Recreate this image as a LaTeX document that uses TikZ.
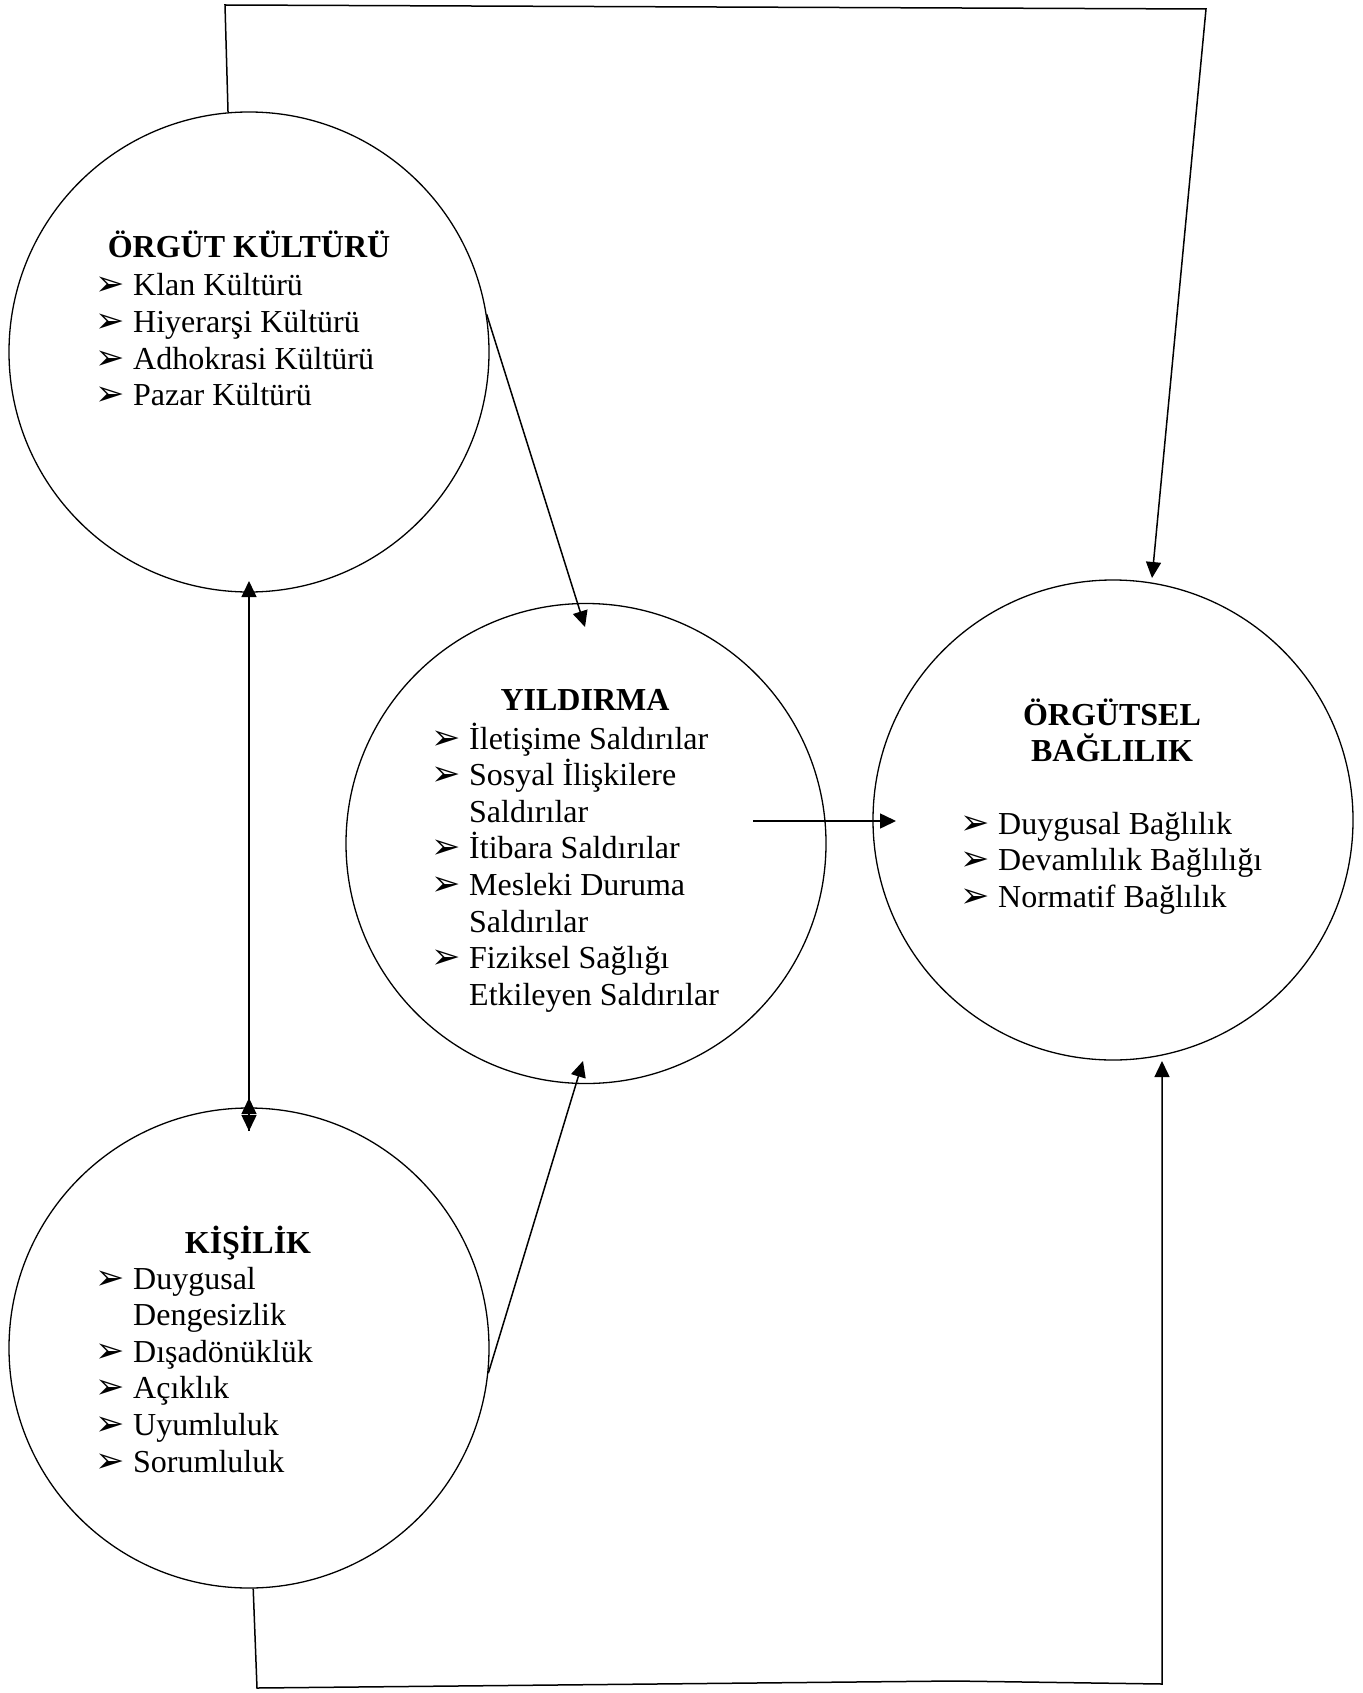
\documentclass[tikz,border=0pt]{standalone}
\usepackage{fontspec}
\setmainfont{Liberation Serif}
\newfontfamily\dingfont{DejaVu Sans}
\usetikzlibrary{arrows.meta}
\newcommand\myitem[4]{%
  \node[bul] (#1b) at (#2,#3) {➢};
  \node[txt] (#1) at (#2+38,#3) {#4};}
\begin{document}
\begin{tikzpicture}[x=1pt,y=-1pt,
  circ/.style={circle, draw, line width=1.3pt, minimum size=480pt, inner sep=0pt},
  conn/.style={line width=1.5pt, line join=miter},
  arr/.style={conn, -{Triangle[length=16pt,width=15pt]}},
  arrboth/.style={conn, {Triangle[length=16pt,width=15pt]}-{Triangle[length=16pt,width=15pt]}},
  txt/.style={font=\fontsize{32}{36.6}\selectfont, inner sep=0pt, anchor=base west},
  ttl/.style={font=\fontsize{32}{36.6}\selectfont\bfseries, inner sep=0pt, anchor=base},
  bul/.style={font=\dingfont\fontsize{35}{35}\selectfont, inner sep=0pt, anchor=base west}]
\fill[white] (0,0) rectangle (1362,1693);
\useasboundingbox (0,0) rectangle (1362,1693);

% circles
\node[circ] (A) at (249,352) {};
\node[circ] (B) at (586,843.5) {};
\node[circ] (C) at (1113,820) {};
\node[circ] (D) at (249,1348) {};

% texts A
\node[ttl] (At) at (249,258) {ÖRGÜT KÜLTÜRÜ};
\myitem{A1}{95}{296}{Klan Kültürü}
\myitem{A2}{95}{332.6}{Hiyerarşi Kültürü}
\myitem{A3}{95}{369.2}{Adhokrasi Kültürü}
\myitem{A4}{95}{405.8}{Pazar Kültürü}

% texts B
\node[ttl] (Bt) at (585,710) {YILDIRMA};
\myitem{B1}{431}{749}{İletişime Saldırılar}
\myitem{B2}{431}{785.6}{Sosyal İlişkilere}
\node[txt] (B2c) at (469,822.2) {Saldırılar};
\myitem{B3}{431}{858.8}{İtibara Saldırılar}
\myitem{B4}{431}{895.4}{Mesleki Duruma}
\node[txt] (B4c) at (469,932) {Saldırılar};
\myitem{B5}{431}{968.6}{Fiziksel Sağlığı}
\node[txt] (B5c) at (469,1005.2) {Etkileyen Saldırılar};

% texts C
\node[ttl] (Ct1) at (1112,725) {ÖRGÜTSEL};
\node[ttl] (Ct2) at (1112,761) {BAĞLILIK};
\myitem{C1}{960}{834}{Duygusal Bağlılık}
\myitem{C2}{960}{870.6}{Devamlılık Bağlılığı}
\myitem{C3}{960}{907.2}{Normatif Bağlılık}

% texts D
\node[ttl] (Dt) at (248,1253) {KİŞİLİK};
\myitem{D1}{95}{1289}{Duygusal}
\node[txt] (D1c) at (133,1325.6) {Dengesizlik};
\myitem{D2}{95}{1362.2}{Dışadönüklük}
\myitem{D3}{95}{1398.8}{Açıklık}
\myitem{D4}{95}{1435.4}{Uyumluluk}
\myitem{D5}{95}{1472}{Sorumluluk}

% connector points
\coordinate (p1) at (225,5);
\coordinate (p2) at (1206,9);
\coordinate (tC1) at (1152,578);
\coordinate (tB1) at (585,627);
\coordinate (tB2) at (583,1061);
\coordinate (sB) at (753,821);
\coordinate (tC3) at (896,821);
\coordinate (q1) at (257,1688);
\coordinate (q2) at (954,1681);
\coordinate (q3) at (1162,1684);
\coordinate (tC2) at (1162,1061);
\coordinate (tA) at (249,581);
\coordinate (tD) at (249,1131);
\coordinate (tD2) at (249,1098);

% connectors
\draw[arr] (A.95) -- (p1) -- (p2) -- (tC1);
\draw[arr] (A.9) -- (tB1);
\draw[arr] (D.-6) -- (tB2);
\draw[arr] (sB) -- (tC3);
\draw[arr] (D.-89) -- (q1) -- (q2) -- (q3) -- (tC2);
\draw[arrboth] (tA) -- (tD);
\draw[arr] (tD) -- (tD2);
\end{tikzpicture}
\end{document}
